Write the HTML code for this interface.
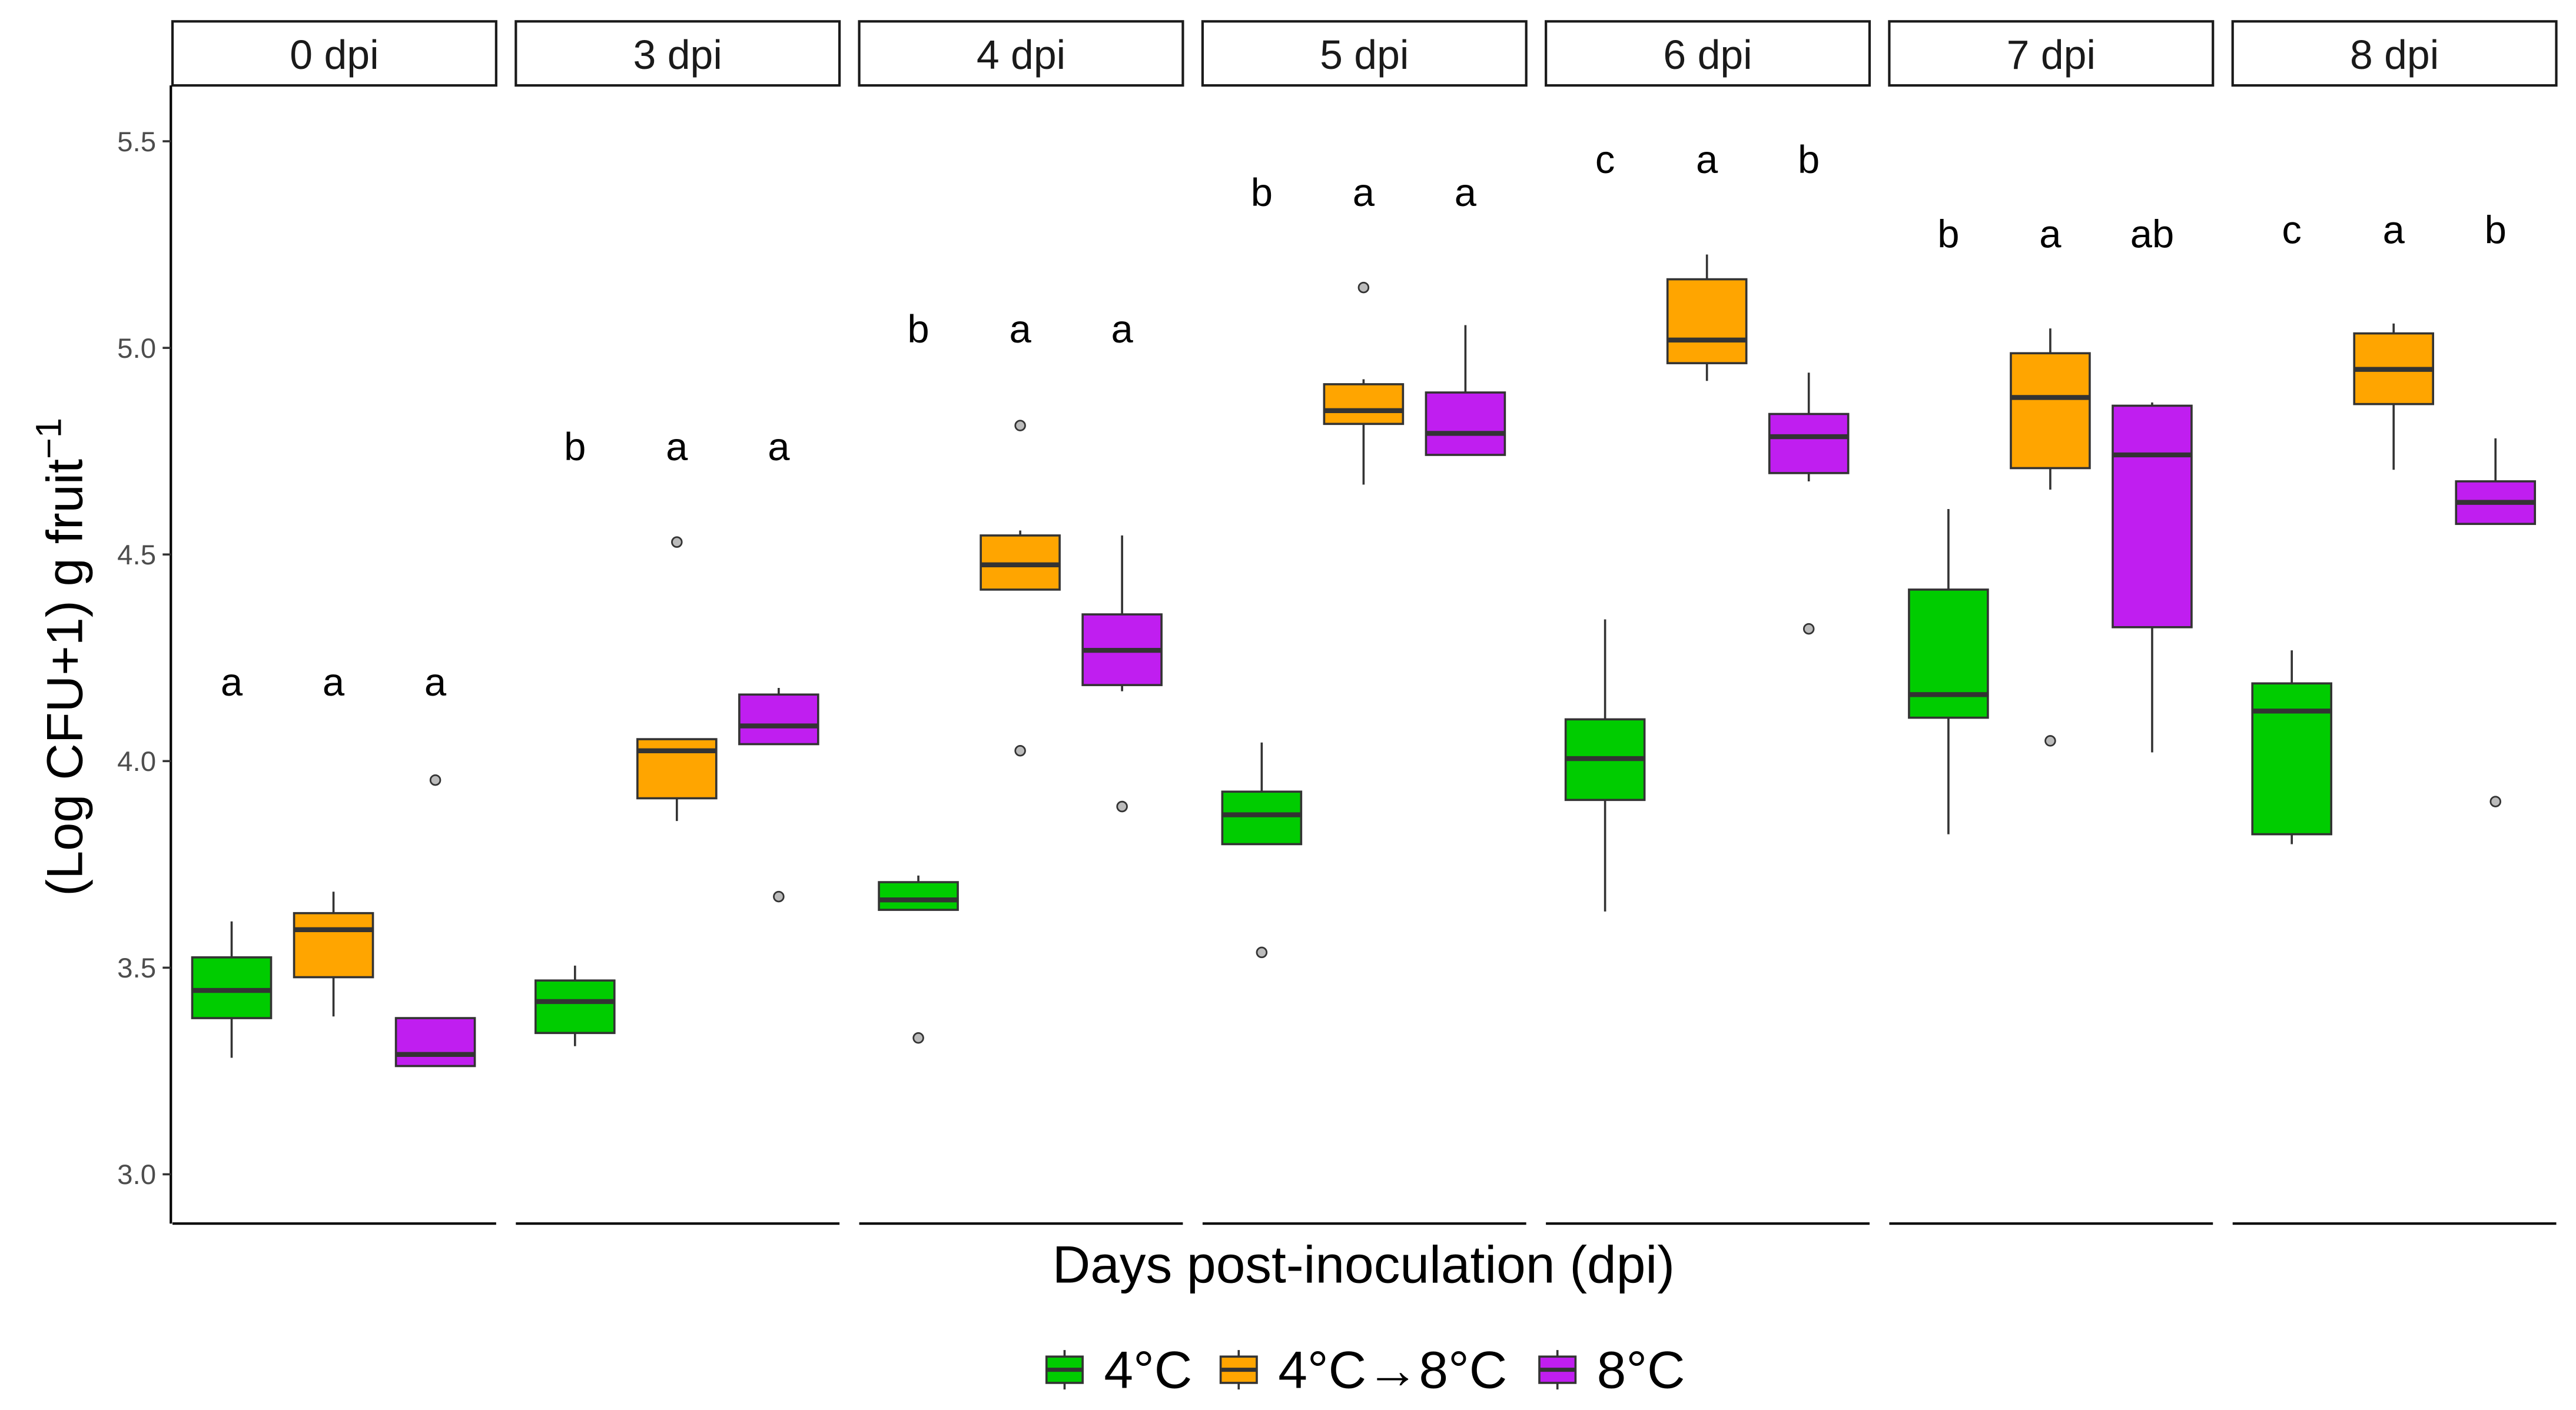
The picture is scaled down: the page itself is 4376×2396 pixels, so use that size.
<!DOCTYPE html>
<html><head><meta charset="utf-8"><style>html,body{margin:0;padding:0;background:#fff}svg{display:block}</style></head>
<body>
<svg id="chart" xmlns="http://www.w3.org/2000/svg" width="4376" height="2396" viewBox="0 0 1568 858.5" font-family="Liberation Sans, sans-serif">
<rect width="1568" height="858.5" fill="#fff"/>
<g id="plot"></g>
</svg>
<script>
const panels = ["0 dpi","3 dpi","4 dpi","5 dpi","6 dpi","7 dpi","8 dpi"];
const groups = ["4°C","4°C→8°C","8°C"];
const colors = ["#00cc00","#ffa500","#c01ef0"];
const yTicks = [3.0,3.5,4.0,4.5,5.0,5.5];
const yTickLabels = ["3.0","3.5","4.0","4.5","5.0","5.5"];
// [min,q1,median,q3,max] per panel per group
const stats4C = [[3.282,3.378,3.445,3.525,3.612],[3.310,3.342,3.418,3.469,3.505],[3.640,3.640,3.664,3.707,3.723],[3.799,3.799,3.870,3.926,4.045],[3.636,3.906,4.006,4.101,4.343],[3.823,4.105,4.161,4.415,4.610],[3.799,3.823,4.121,4.188,4.268]];
const stats4to8 = [[3.382,3.477,3.592,3.632,3.684],[3.855,3.910,4.025,4.053,4.053],[4.415,4.415,4.475,4.546,4.558],[4.669,4.816,4.848,4.912,4.924],[4.920,4.963,5.019,5.166,5.226],[4.657,4.709,4.880,4.987,5.047],[4.705,4.864,4.948,5.035,5.059]];
const stats8C = [[3.262,3.262,3.290,3.378,3.378],[4.041,4.041,4.085,4.161,4.177],[4.169,4.184,4.268,4.355,4.546],[4.741,4.741,4.793,4.892,5.055],[4.677,4.697,4.785,4.840,4.940],[4.021,4.324,4.741,4.860,4.868],[4.574,4.574,4.626,4.677,4.781]];
const outliers4C = [[],[],[3.330],[3.537],[],[],[]];
const outliers4to8 = [[],[4.530],[4.812,4.025],[5.146],[],[4.049],[]];
const outliers8C = [[3.954],[3.672],[3.890],[],[4.320],[],[3.902]];
const letters4C = ["a","b","b","b","c","b","c"];
const letters4to8 = ["a","a","a","a","a","a","a"];
const letters8C = ["a","a","a","a","b","ab","b"];
const letterY = [4.19,4.76,5.045,5.375,5.455,5.275,5.285];

const NS="http://www.w3.org/2000/svg";
const g=document.getElementById('plot');
function y(v){return 86+(5.5-v)*251.6;}
function px(p){return 105+p*209;}
function el(t,a,txt){const e=document.createElementNS(NS,t);for(const k in a)e.setAttribute(k,a[k]);if(txt!==undefined)e.textContent=txt;g.appendChild(e);return e;}
const allStats=[stats4C,stats4to8,stats8C],allOut=[outliers4C,outliers4to8,outliers8C],allLet=[letters4C,letters4to8,letters8C];
const offs=[36,98,160],bw=24;
panels.forEach((p,i)=>{
  const x0=px(i);
  let s=el('rect',{x:x0,y:13,width:197,height:39,fill:'#fff',stroke:'#1a1a1a','stroke-width':1.5});
  
  
  let t=el('text',{x:x0+98.5,y:42,'text-anchor':'middle','font-size':25,fill:'#1a1a1a'},p);
  
  
  let ax=el('line',{x1:x0,x2:x0+197,y1:745,y2:745,stroke:'#000','stroke-width':1.5});
  
  
  for(let k=0;k<3;k++){
    const st=allStats[k][i],cx=x0+offs[k];
    let w=el('line',{x1:cx,x2:cx,y1:y(st[4]),y2:y(st[0]),stroke:'#333','stroke-width':1.3});
    
    
    let b=el('rect',{x:cx-bw,y:y(st[3]),width:bw*2,height:y(st[1])-y(st[3]),fill:colors[k],stroke:'#333','stroke-width':1.3});
    
    
    let m=el('line',{x1:cx-bw,x2:cx+bw,y1:y(st[2]),y2:y(st[2]),stroke:'#333','stroke-width':3});
    
    
    allOut[k][i].forEach(o=>{
      let c=el('circle',{cx:cx,cy:y(o),r:3,fill:'#bbb',stroke:'#333','stroke-width':1});
      
      
    });
    let l=el('text',{x:cx,y:y(letterY[i])+8,'text-anchor':'middle','font-size':24,fill:'#000'},allLet[k][i]);
    
    
  }
});
let ya=el('line',{x1:104,x2:104,y1:52,y2:745,stroke:'#000','stroke-width':1.5});


yTicks.forEach((v,i)=>{
  let tk=el('line',{x1:99,x2:104,y1:y(v),y2:y(v),stroke:'#333','stroke-width':1.3});
  
  
  let tl=el('text',{x:95,y:y(v)+6,'text-anchor':'end','font-size':17,fill:'#4d4d4d'},yTickLabels[i]);
  
  
});
let yt=el('text',{transform:'translate(50,400) rotate(-90)','text-anchor':'middle','font-size':31,fill:'#000'});


yt.innerHTML='(Log CFU+1) g fruit<tspan dy="-13" font-size="22">−1</tspan>';
let xt=el('text',{x:830,y:781,'text-anchor':'middle','font-size':32,fill:'#000'},'Days post-inoculation (dpi)');


const legX=[636,742,936];
groups.forEach((gr,k)=>{
  const lx=legX[k];
  let kl=el('line',{x1:lx+12,x2:lx+12,y1:822,y2:846,stroke:'#333','stroke-width':1.3});
  
  
  let kr=el('rect',{x:lx+1,y:826,width:22,height:16,fill:colors[k],stroke:'#333','stroke-width':1.3});
  
  
  let km=el('line',{x1:lx+1,x2:lx+23,y1:834,y2:834,stroke:'#333','stroke-width':2.5});
  
  
  let lt=el('text',{x:lx+36,y:845,'font-size':32,fill:'#000'},gr);
  
  
});
</script>
</body></html>
